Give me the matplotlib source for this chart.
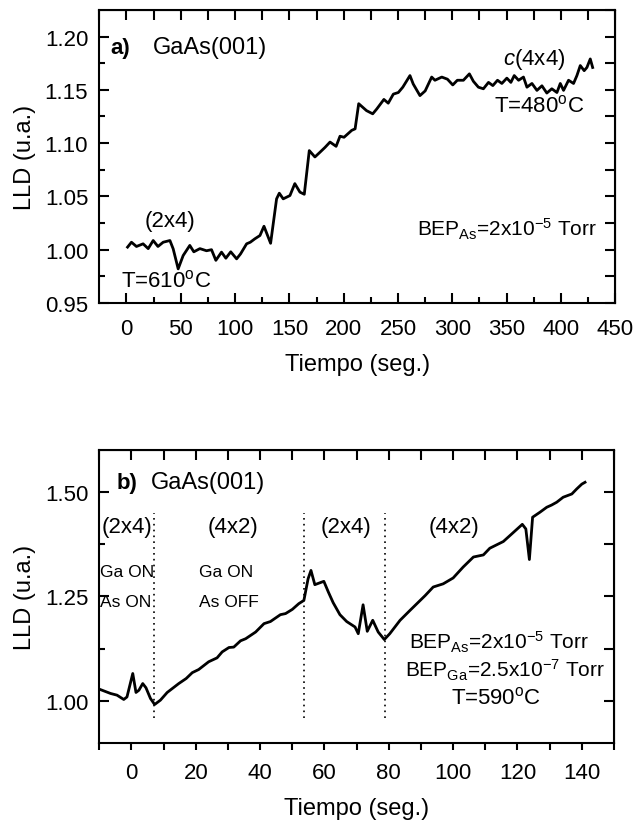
import numpy as np
import matplotlib
matplotlib.use('Agg')
import matplotlib.pyplot as plt

plt.rcParams['font.family'] = ['Liberation Sans', 'DejaVu Sans']
plt.rcParams['mathtext.fontset'] = 'custom'
plt.rcParams['mathtext.rm'] = 'Liberation Sans'
plt.rcParams['mathtext.it'] = 'Liberation Sans:italic'

# panel a) : LLD vs tiempo, GaAs(001) 610C -> 480C
t_a = [1, 4.6, 9.2, 15.3, 20, 24.6, 29, 33.8, 40, 43, 47.6, 52.2, 58.3, 62,
       67.6, 73.7, 78.3, 82.3, 87.5, 91.5, 96, 101.4, 105, 110.6, 114, 118.2,
       122.9, 126.6, 132.7, 138.2, 140.7, 144.3, 150.5, 155, 159.7, 163.7,
       168.3, 173.5, 178.2, 182.8, 187.4, 193, 196.6, 200.3, 207.4, 210.5,
       213.8, 221, 226.7, 230.4, 237, 241, 245.7, 250.3, 254.4, 261, 264,
       270.2, 275, 281, 284, 290.3, 295.5, 300.4, 304.6, 310.2, 315.7, 319.4,
       324, 328.6, 333.3, 337.3, 341.6, 345.6, 350.2, 353.9, 357, 361, 365.5,
       368.7, 373.3, 377.9, 382.5, 387, 391.6, 396.3, 399.4, 402.4, 407,
       411.6, 414.7, 417.8, 421.4, 423.9, 427, 429.2]
lld_a = [1.0024, 1.007, 1.003, 1.0055, 1.001, 1.0086, 1.003, 1.007, 1.0086,
         1.0008, 0.982, 0.9945, 1.004, 0.998, 1.001, 0.999, 1.0, 0.990,
         0.9977, 0.992, 0.998, 0.9914, 0.996, 1.0055, 1.007, 1.0102, 1.0133,
         1.022, 1.006, 1.0477, 1.053, 1.0477, 1.0508, 1.062, 1.054, 1.052,
         1.093, 1.087, 1.0915, 1.096, 1.101, 1.097, 1.1065, 1.1055, 1.112,
         1.1134, 1.137, 1.1305, 1.1275, 1.132, 1.141, 1.1375, 1.146, 1.1475,
         1.1525, 1.1634, 1.1555, 1.1446, 1.149, 1.162, 1.159, 1.162, 1.16,
         1.1546, 1.159, 1.159, 1.165, 1.158, 1.1525, 1.151, 1.157, 1.154,
         1.159, 1.156, 1.161, 1.157, 1.1634, 1.159, 1.162, 1.1525, 1.156,
         1.1495, 1.1538, 1.147, 1.151, 1.1475, 1.156, 1.1495, 1.159, 1.156,
         1.1634, 1.1728, 1.168, 1.171, 1.179, 1.171]

# panel b) : Ga ON / As ON-OFF alternado, 590C
t_b = [-10, -6.5, -4.5, -2.4, -1.4, 0.4, 1.4, 2.3, 3.5, 4.5, 5.9, 7.2, 9,
       11.1, 14.7, 17, 18.9, 20.9, 24, 26.6, 28.2, 30.3, 31.8, 33.9, 35.5,
       38.6, 41.2, 43.2, 46.3, 47.9, 50, 52, 53.6, 54.9, 55.8, 57, 59.8,
       61.2, 62.7, 64.8, 66.9, 69.5, 70.5, 72, 73.3, 75, 76.7, 78.6, 80.3,
       83.5, 86.6, 91.3, 93.8, 96.9, 100, 103.1, 106.3, 109.4, 111.4, 115.6,
       118.2, 121.5, 122.6, 123.7, 124.7, 127, 129.1, 130.6, 132.2, 134.2,
       136.9, 138.4, 140, 141]
lld_b = [1.0286, 1.0183, 1.0143, 1.004, 1.01, 1.066, 1.0207, 1.026, 1.042,
         1.032, 1.0064, 0.992, 1.0024, 1.0207, 1.042, 1.054, 1.068, 1.0755,
         1.094, 1.1033, 1.1176, 1.128, 1.129, 1.144, 1.149, 1.165, 1.185,
         1.19, 1.2064, 1.209, 1.219, 1.2326, 1.2405, 1.292, 1.312, 1.278,
         1.286, 1.2605, 1.235, 1.2064, 1.190, 1.177, 1.161, 1.230, 1.1667,
         1.193, 1.165, 1.147, 1.161, 1.193, 1.2167, 1.252, 1.2724, 1.28,
         1.294, 1.32, 1.344, 1.349, 1.365, 1.381, 1.399, 1.422, 1.411, 1.338,
         1.439, 1.451, 1.4628, 1.468, 1.4748, 1.4867, 1.4945, 1.5064, 1.518,
         1.5224]

cambios = [7.1, 53.7, 78.7]          # cambios de reconstruccion
fases = ['(2x4)', '(4x2)', '(2x4)', '(4x2)']
fases_x = [-1.3, 31.6, 66.6, 100.4]

FS = 16

fig = plt.figure(figsize=(6.35, 8.28), dpi=100)
ax1 = fig.add_axes([0.1564, 0.6329, 0.8125, 0.3539])
ax2 = fig.add_axes([0.1564, 0.1014, 0.8105, 0.3542])

for ax in (ax1, ax2):
    for s in ax.spines.values():
        s.set_linewidth(1.5)

def espejo(ax, xt, yt):
    # ticks arriba y a la derecha, todos iguales, sin etiquetas
    sx = ax.secondary_xaxis('top')
    sx.set_xticks(xt)
    sx.tick_params(direction='in', length=7, width=1.5, labeltop=False)
    sy = ax.secondary_yaxis('right')
    sy.set_yticks(yt)
    sy.tick_params(direction='in', length=7, width=1.5, labelright=False)

# ---- a)
ax1.plot(t_a, lld_a, color='black', lw=2.0)
ax1.set_xlim(-25, 450)
ax1.set_ylim(0.95, 1.225)
ax1.set_xticks(np.arange(0, 451, 50))
ax1.set_xticks(np.arange(25, 450, 50), minor=True)
ax1.set_yticks([0.95, 1.00, 1.05, 1.10, 1.15, 1.20])
ax1.set_yticks(np.arange(0.975, 1.22, 0.05), minor=True)
ax1.tick_params(which='major', direction='in', length=7.5, width=1.5,
                labelsize=FS)
ax1.tick_params(which='minor', direction='in', length=4, width=1.5)
ax1.tick_params(axis='y', pad=8)
ax1.tick_params(axis='x', pad=11)
espejo(ax1, np.arange(-25, 451, 25), np.arange(0.95, 1.226, 0.025))
ax1.set_xlabel('Tiempo (seg.)', fontsize=FS + 1, labelpad=10)
ax1.set_ylabel('LLD (u.a.)', fontsize=FS + 1, labelpad=6)

ax1.text(-14.7, 1.19, 'a)', fontsize=FS, fontweight='bold', va='center')
ax1.text(24, 1.19, 'GaAs(001)', fontsize=FS + 1, va='center')
ax1.text(347, 1.174, r'$\mathit{c}$(4x4)', fontsize=FS, va='baseline')
ax1.text(338, 1.130, r'T=480$^{\mathrm{o}}$C', fontsize=FS, va='baseline')
ax1.text(40, 1.027, '(2x4)', fontsize=FS, ha='center', va='center')
ax1.text(-4.8, 0.966, r'T=610$^{\mathrm{o}}$C', fontsize=FS, va='baseline')
ax1.text(433.6, 1.0133, r'BEP$_{\mathrm{As}}$=2x10$^{\mathrm{-5}}$ Torr',
         fontsize=FS - 1, ha='right', va='baseline')

# ---- b)
ax2.plot(t_b, lld_b, color='black', lw=2.0, clip_on=True)
for xc in cambios:
    ax2.plot([xc, xc], [0.96, 1.45], color='black', lw=1.2,
             linestyle=(0, (1, 2.5)))
ax2.set_xlim(-10, 150)
ax2.set_ylim(0.9, 1.6)
ax2.set_xticks(np.arange(0, 141, 20))
ax2.set_xticks(np.arange(-10, 151, 20), minor=True)
ax2.set_yticks([1.00, 1.25, 1.50])
ax2.set_yticks([1.125, 1.375], minor=True)
ax2.tick_params(axis='x', which='both', direction='out', length=5, width=1.5,
                labelsize=FS, pad=9)
ax2.tick_params(axis='y', which='major', direction='in', length=7.5,
                width=1.5, labelsize=FS, pad=8)
ax2.tick_params(axis='y', which='minor', direction='in', length=4, width=1.5)
espejo(ax2, np.arange(-10, 151, 10), np.arange(0.875, 1.6, 0.125))
ax2.set_xlabel('Tiempo (seg.)', fontsize=FS + 1, labelpad=10)
ax2.set_ylabel('LLD (u.a.)', fontsize=FS + 1, labelpad=6)

ax2.text(-4.6, 1.523, 'b)', fontsize=FS, fontweight='bold', va='center')
ax2.text(5.9, 1.523, 'GaAs(001)', fontsize=FS + 1, va='center')
for xf, f in zip(fases_x, fases):
    ax2.text(xf, 1.416, f, fontsize=FS, ha='center', va='center')
ax2.text(-9.9, 1.309, 'Ga ON', fontsize=12.5, va='center')
ax2.text(-9.9, 1.237, 'As ON', fontsize=12.5, va='center')
ax2.text(21.1, 1.309, 'Ga ON', fontsize=12.5, va='center')
ax2.text(21.1, 1.237, 'As OFF', fontsize=12.5, va='center')
ax2.text(114.3, 1.1255, r'BEP$_{\mathrm{As}}$=2x10$^{\mathrm{-5}}$ Torr',
         fontsize=FS - 1, ha='center', va='baseline')
ax2.text(116.1, 1.058, r'BEP$_{\mathrm{Ga}}$=2.5x10$^{\mathrm{-7}}$ Torr',
         fontsize=FS - 1, ha='center', va='baseline')
ax2.text(113.3, 0.9945, r'T=590$^{\mathrm{o}}$C', fontsize=FS,
         ha='center', va='baseline')

fig.savefig('out.png', dpi=100)
